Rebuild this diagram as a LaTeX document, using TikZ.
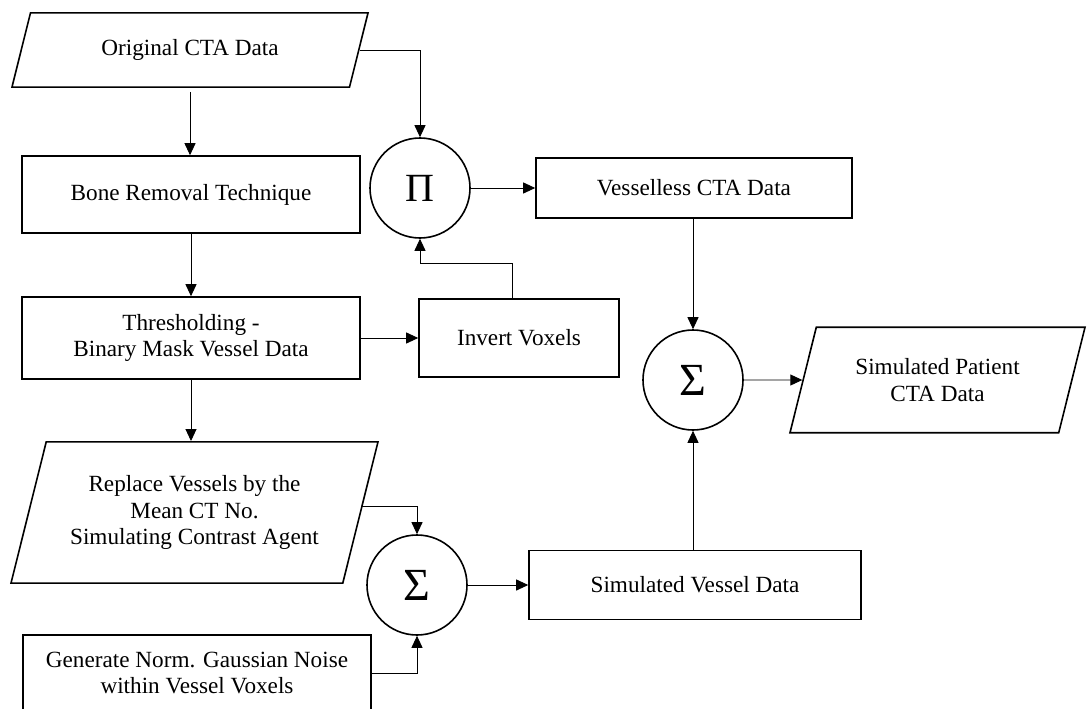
\documentclass[tikz,border=0pt]{standalone}
\usepackage{fontspec}
\setmainfont{Liberation Serif}
\usetikzlibrary{arrows.meta, shapes.geometric, calc}

\tikzset{
    box/.style={draw, line width=1.6pt, align=center, inner sep=0pt},
    iobox/.style={box, trapezium, trapezium left angle=76, trapezium right angle=104,
        trapezium stretches body, inner xsep=0pt, inner ysep=#1},
    opcircle/.style={draw, circle, line width=1.6pt, minimum size=100pt, inner sep=0pt},
    conn/.style={line width=0.9pt, -{Triangle[length=12pt, width=11pt]}}
}

\begin{document}
\begin{tikzpicture}[x=1pt, y=-1pt, font=\fontsize{23.2}{26.5}\selectfont]
    \useasboundingbox (0,0) rectangle (1087,709);

    \node[iobox=26.5pt, minimum width=356pt]             (orig)     at (190, 50)    {Original CTA Data};
    \node[box, minimum width=338pt, minimum height=77pt] (bone)     at (191, 194.5) {Bone Removal Technique};
    \node[box, minimum width=338pt, minimum height=82pt] (thresh)   at (191, 338)   {Thresholding -\\Binary Mask Vessel Data};
    \node[iobox=33.6pt, minimum width=367pt]             (replace)  at (194.5, 512.5) {Replace Vessels by the\\Mean CT No.\\Simulating Contrast Agent};
    \node[box, minimum width=348pt, minimum height=76pt] (noise)    at (197, 673)   {Generate Norm. Gaussian Noise\\within Vessel Voxels};

    \node[opcircle, font=\fontsize{40}{40}\selectfont] (prod) at (420, 188) {Π};
    \node[box, minimum width=316pt, minimum height=60pt] (vless)    at (694, 188)   {Vesselless CTA Data};
    \node[box, minimum width=200pt, minimum height=78pt] (invert)   at (519, 338)   {Invert Voxels};

    \node[opcircle, font=\fontsize{46}{46}\selectfont] (sumtop) at (693, 380) {Σ};
    \node[iobox=31.3pt, minimum width=295pt]             (patient)  at (937.5, 380) {Simulated Patient\\CTA Data};

    \node[opcircle, font=\fontsize{46}{46}\selectfont] (sumlow) at (417, 585) {Σ};
    \node[box, minimum width=332pt, minimum height=69pt] (svessel)  at (695, 585)   {Simulated Vessel Data};

    \draw[conn, shorten <=4pt] (orig.south) -- (orig.south |- bone.north);
    \draw[conn] (orig.east) -| (prod.north);
    \draw[conn] (bone.south) -- (bone.south |- thresh.north);
    \draw[conn] (thresh.south) -- (thresh.south |- replace.north);
    \draw[conn] (thresh.east) -- (invert.west);
    \draw[conn] ([xshift=-7pt]invert.north) |- ([yshift=-25pt]prod.south) -- (prod.south);
    \draw[conn] (prod.east) -- (vless.west);
    \draw[conn] (vless.south -| sumtop.north) -- (sumtop.north);
    \draw[conn] (sumtop.east) -- (patient.west);
    \draw[conn] ([yshift=6pt]replace.east) -| (sumlow.north);
    \draw[conn] (noise.east) -| (sumlow.south);
    \draw[conn] (sumlow.east) -- (svessel.west);
    \draw[conn] (svessel.north -| sumtop.south) -- (sumtop.south);
\end{tikzpicture}
\end{document}
